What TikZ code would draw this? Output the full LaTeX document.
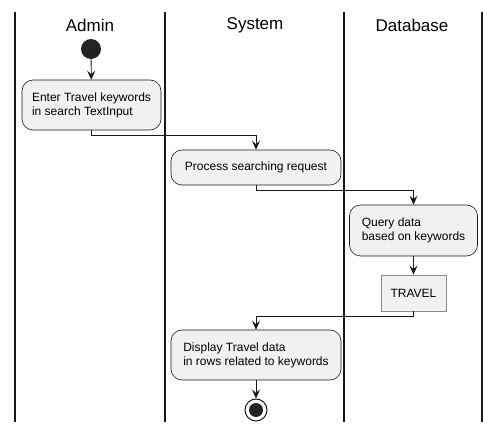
\documentclass[tikz,border=0pt]{standalone}
\usepackage{fontspec}
\setmainfont{Liberation Sans}
\usetikzlibrary{arrows.meta}
\definecolor{boxfill}{HTML}{F1F1F1}
\definecolor{boxline}{HTML}{181818}
\definecolor{objline}{HTML}{8C8C8C}
\definecolor{dotfill}{HTML}{222222}
\tikzset{
    laneline/.style={line width=1.3pt,draw=boxline},
    lanehead/.style={font=\fontsize{17}{20}\selectfont},
    action/.style={draw=boxline,fill=boxfill,rounded corners=11pt,line width=0.6pt,
        align=left,inner xsep=10pt,font=\fontsize{12}{14}\selectfont},
    object/.style={draw=objline,fill=boxfill,line width=0.8pt,inner sep=0pt,
        font=\fontsize{12}{14}\selectfont},
    startdot/.style={circle,fill=dotfill,minimum size=20pt,inner sep=0pt},
    enddot/.style={circle,draw=boxline,fill=white,line width=1pt,minimum size=22pt,inner sep=0pt,
        path picture={\fill[dotfill] (path picture bounding box.center) circle (7pt);}},
    flow/.style={draw=boxline,line width=0.8pt,-{Stealth[length=9pt,width=8pt,inset=3.5pt]}}
}
\begin{document}
\begin{tikzpicture}[x=1pt,y=-1pt]
        \useasboundingbox (0,0) rectangle (499,433);
        % swimlanes
        \foreach \xl in {15,165,344,482}
            \draw[laneline] (\xl,12) -- (\xl,422);
        \node[lanehead] (admin) at (90,25) {Admin};
        \node[lanehead] (system) at (255,25) {System};
        \node[lanehead] (database) at (412,25) {Database};
        % activities
        \node[startdot] (start) at (91,49) {};
        \node[action,minimum width=139pt,minimum height=50pt] (enter) at (91.5,105)
            {Enter Travel keywords\\in search TextInput};
        \node[action,minimum width=170pt,minimum height=35pt] (process) at (256,167.5)
            {Process searching request};
        \node[action,minimum width=128pt,minimum height=51pt] (query) at (413.5,230.5)
            {Query data\\based on keywords};
        \node[object,minimum width=65pt,minimum height=36pt] (travel) at (413.5,293) {TRAVEL};
        \node[action,minimum width=170pt,minimum height=50pt] (display) at (256,355)
            {Display Travel data\\in rows related to keywords};
        \node[enddot] (stop) at (256,410) {};
        % flows
        \draw[flow] (start) -- (enter);
        \draw[flow] (enter.south) -- ++(0,5) -| (process.north);
        \draw[flow] (process.south) -- ++(0,5) -| (query.north);
        \draw[flow] (query) -- (travel);
        \draw[flow] (travel.south) -- ++(0,5) -| (display.north);
        \draw[flow] (display) -- (stop);
    \end{tikzpicture}
\end{document}
